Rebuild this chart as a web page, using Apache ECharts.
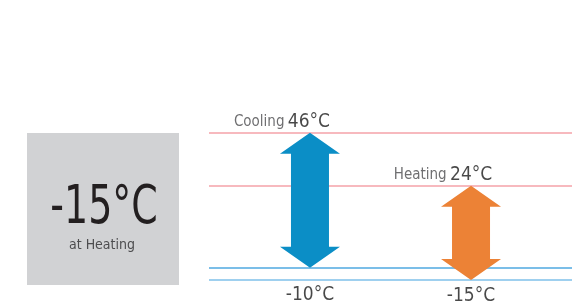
<!DOCTYPE html>
<html>
<head>
<meta charset="utf-8">
<script src="https://cdn.jsdelivr.net/npm/echarts@6/dist/echarts.min.js"></script>
<style>
  html, body { margin: 0; padding: 0; background: #fff; }
  #chart { width: 572px; height: 304px; }
</style>
</head>
<body>
<div id="chart"></div>
<script>
// Operating range chart: cooling vs heating

var modes = ['Cooling', 'Heating'];
var maxTemps = [46, 24];
var minTemps = [-10, -15];
var boxValue = '-15°C';
var boxCaption = 'at Heating';

var arrowColors = ['#0b8ec6', '#ec8236'];
var FONT = "'Liberation Sans Narrow', 'DejaVu Sans Condensed', 'Noto Sans', sans-serif";

var chart = echarts.init(document.getElementById('chart'));

// double headed arrow from min to max temperature
function renderArrow(params, api) {
    var top = api.coord([api.value(0), api.value(2)]);
    var bot = api.coord([api.value(0), api.value(1)]);
    var cx = top[0];
    var shaft = 19, head = 30, len = 21;
    return {
        type: 'polygon',
        shape: {
            points: [
                [cx, top[1]],
                [cx + head, top[1] + len],
                [cx + shaft, top[1] + len],
                [cx + shaft, bot[1] - len],
                [cx + head, bot[1] - len],
                [cx, bot[1]],
                [cx - head, bot[1] - len],
                [cx - shaft, bot[1] - len],
                [cx - shaft, top[1] + len],
                [cx - head, top[1] + len]
            ]
        },
        style: { fill: arrowColors[params.dataIndex] }
    };
}

var arrowData = modes.map(function (m, i) {
    return [i, minTemps[i], maxTemps[i]];
});

var lineStyles = [
    { color: '#f4a2a9', width: 1.5, type: 'solid' },
    { color: '#f4a2a9', width: 1.5, type: 'solid' },
    { color: '#4fa9e0', width: 1.5, type: 'solid' },
    { color: '#9fd0ef', width: 2, type: 'solid' }
];
var lineValues = maxTemps.concat(minTemps);
var markLines = lineValues.map(function (v, i) {
    return { yAxis: v, lineStyle: lineStyles[i] };
});

// bottom labels sit on one baseline
var bottomDistance = [18, 7];

var option = {
    animation: false,
    grid: { left: 209, right: 0, top: 123, bottom: 12 },
    xAxis: {
        type: 'value',
        min: -0.627,
        max: 1.627,
        show: false
    },
    yAxis: {
        type: 'value',
        min: -20,
        max: 50,
        show: false
    },
    graphic: [
        {
            type: 'rect',
            left: 27,
            top: 133,
            shape: { width: 152, height: 152 },
            style: { fill: '#d1d2d4' }
        },
        {
            type: 'text',
            x: 104,
            y: 209,
            scaleX: 0.78,
            style: {
                text: boxValue,
                font: '300 54px ' + FONT,
                fill: '#231f20',
                textAlign: 'center',
                textVerticalAlign: 'middle'
            }
        },
        {
            type: 'text',
            x: 102,
            y: 245,
            style: {
                text: boxCaption,
                font: '14px ' + FONT,
                fill: '#4d4d4f',
                textAlign: 'center',
                textVerticalAlign: 'middle'
            }
        }
    ],
    series: [
        {
            type: 'line',
            data: [],
            silent: true,
            markLine: {
                symbol: 'none',
                silent: true,
                label: { show: false },
                data: markLines
            }
        },
        {
            type: 'custom',
            renderItem: renderArrow,
            data: arrowData,
            z: 5
        },
        {
            // top labels
            type: 'scatter',
            symbolSize: 0,
            data: modes.map(function (m, i) { return [i, maxTemps[i]]; }),
            label: {
                show: true,
                position: 'top',
                distance: 1,
                offset: [-28, 0],
                formatter: function (p) {
                    return '{a|' + modes[p.dataIndex] + '} {b|' + maxTemps[p.dataIndex] + '°C}';
                },
                rich: {
                    a: { fontFamily: FONT, fontSize: 15, color: '#4a4a4c' },
                    b: { fontFamily: FONT, fontSize: 19, color: '#1a1a1a' }
                }
            },
            z: 6
        },
        {
            // bottom labels
            type: 'scatter',
            symbolSize: 0,
            data: modes.map(function (m, i) {
                return {
                    value: [i, minTemps[i]],
                    label: { distance: bottomDistance[i] }
                };
            }),
            label: {
                show: true,
                position: 'bottom',
                formatter: function (p) {
                    return minTemps[p.dataIndex] + '°C';
                },
                fontFamily: FONT,
                fontSize: 19,
                color: '#1a1a1a'
            },
            z: 6
        }
    ]
};

chart.setOption(option);
</script>
</body>
</html>
